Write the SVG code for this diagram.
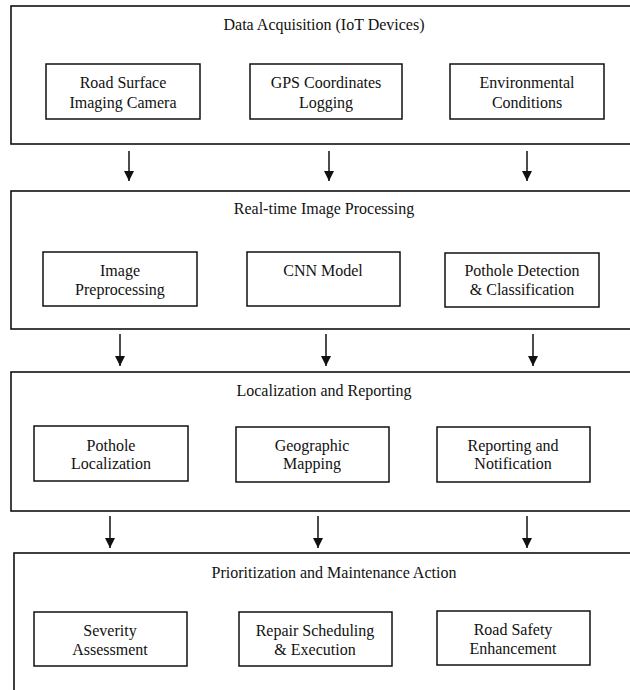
<svg xmlns="http://www.w3.org/2000/svg" width="630" height="690" viewBox="0 0 630 690">
<style>
.panel{fill:#fff;stroke:#111;stroke-width:1.6}
.box{fill:#fff;stroke:#111;stroke-width:1.5}
text{font-family:"Liberation Serif","Times New Roman",serif;font-size:16px;fill:#111;text-anchor:middle}
.conn line{stroke:#111;stroke-width:1.5}
</style>
<defs>
<marker id="ah" markerUnits="userSpaceOnUse" markerWidth="11" markerHeight="10" refX="10" refY="5" orient="auto" viewBox="0 0 11 10">
<path d="M0,0 L10,5 L0,10 Z" fill="#111"/>
</marker>
</defs>
<rect width="630" height="690" fill="#fff"/>

<g id="panel1">
<rect class="panel" x="11" y="6" width="640" height="138"/>
<text x="324" y="30">Data Acquisition (IoT Devices)</text>
</g>
<g id="n-road-camera"><rect class="box" x="46" y="64" width="154" height="55"/><text x="123" y="88">Road Surface</text><text x="123" y="108">Imaging Camera</text></g>
<g id="n-gps"><rect class="box" x="250" y="64" width="152" height="55"/><text x="326" y="88">GPS Coordinates</text><text x="326" y="108">Logging</text></g>
<g id="n-env"><rect class="box" x="450" y="64" width="154" height="55"/><text x="527" y="88">Environmental</text><text x="527" y="108">Conditions</text></g>

<g id="panel2">
<rect class="panel" x="11" y="191" width="640" height="138"/>
<text x="324" y="214">Real-time Image Processing</text>
</g>
<g id="n-preproc"><rect class="box" x="43" y="252" width="154" height="54"/><text x="120" y="276">Image</text><text x="120" y="295">Preprocessing</text></g>
<g id="n-cnn"><rect class="box" x="247" y="252" width="153" height="54"/><text x="323" y="276">CNN Model</text></g>
<g id="n-detect"><rect class="box" x="445" y="253" width="154" height="54"/><text x="522" y="276">Pothole Detection</text><text x="522" y="295">&amp; Classification</text></g>

<g id="panel3">
<rect class="panel" x="11" y="372" width="640" height="139"/>
<text x="324" y="396">Localization and Reporting</text>
</g>
<g id="n-local"><rect class="box" x="34" y="426" width="154" height="55"/><text x="111" y="451">Pothole</text><text x="111" y="469">Localization</text></g>
<g id="n-geo"><rect class="box" x="236" y="427" width="153" height="55"/><text x="312" y="451">Geographic</text><text x="312" y="469">Mapping</text></g>
<g id="n-report"><rect class="box" x="437" y="427" width="153" height="55"/><text x="513" y="451">Reporting and</text><text x="513" y="469">Notification</text></g>

<g id="panel4">
<rect class="panel" x="14" y="553" width="640" height="160"/>
<text x="334" y="578">Prioritization and Maintenance Action</text>
</g>
<g id="n-severity"><rect class="box" x="34" y="612" width="153" height="54"/><text x="110" y="636">Severity</text><text x="110" y="655">Assessment</text></g>
<g id="n-repair"><rect class="box" x="239" y="612" width="153" height="54"/><text x="315" y="636">Repair Scheduling</text><text x="315" y="655">&amp; Execution</text></g>
<g id="n-safety"><rect class="box" x="437" y="611" width="153" height="54"/><text x="513" y="635">Road Safety</text><text x="513" y="654">Enhancement</text></g>

<g class="conn" id="connectors">
<line x1="129" y1="151" x2="129" y2="181" marker-end="url(#ah)"/>
<line x1="329" y1="151" x2="329" y2="181" marker-end="url(#ah)"/>
<line x1="527" y1="151" x2="527" y2="181" marker-end="url(#ah)"/>
<line x1="120" y1="334" x2="120" y2="366" marker-end="url(#ah)"/>
<line x1="326" y1="334" x2="326" y2="366" marker-end="url(#ah)"/>
<line x1="533" y1="334" x2="533" y2="366" marker-end="url(#ah)"/>
<line x1="110" y1="516" x2="110" y2="548" marker-end="url(#ah)"/>
<line x1="318" y1="516" x2="318" y2="548" marker-end="url(#ah)"/>
<line x1="527" y1="516" x2="527" y2="548" marker-end="url(#ah)"/>
</g>
</svg>
